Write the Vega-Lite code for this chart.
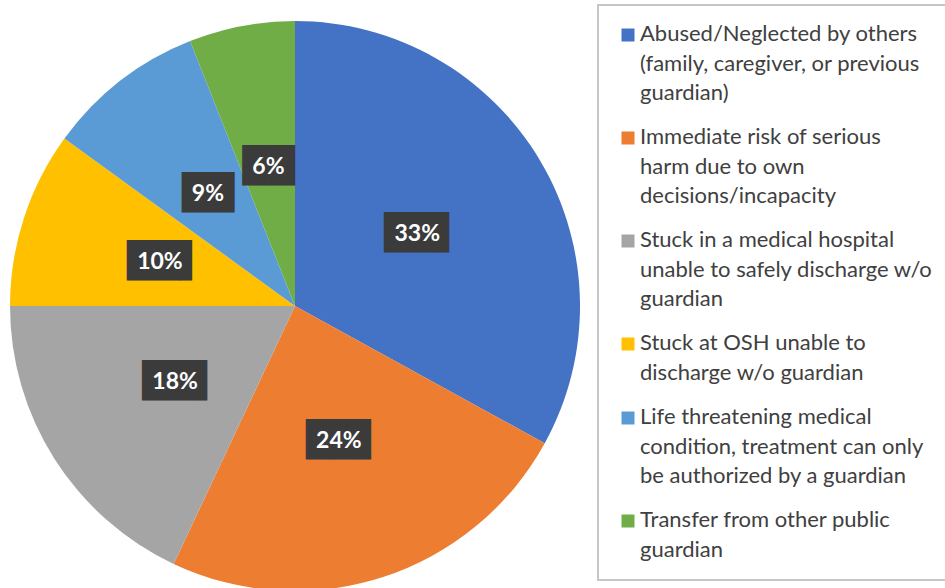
{
  "$schema": "https://vega.github.io/schema/vega-lite/v6.json",
  "width": 590,
  "height": 588,
  "padding": 0,
  "autosize": {"type": "pad"},
  "background": "white",
  "config": {"view": {"stroke": null}},
  "data": {
    "values": [
      {"i": 1, "category": "Abused/Neglected by others (family, caregiver, or previous guardian)", "share": 0.33},
      {"i": 2, "category": "Immediate risk of serious harm due to own decisions/incapacity", "share": 0.24},
      {"i": 3, "category": "Stuck in a medical hospital unable to safely discharge w/o guardian", "share": 0.18},
      {"i": 4, "category": "Stuck at OSH unable to discharge w/o guardian", "share": 0.10},
      {"i": 5, "category": "Life threatening medical condition, treatment can only be authorized by a guardian", "share": 0.09},
      {"i": 6, "category": "Transfer from other public guardian", "share": 0.06}
    ]
  },
  "encoding": {
    "theta": {"field": "share", "type": "quantitative", "stack": true},
    "order": {"field": "i", "type": "quantitative"}
  },
  "layer": [
    {
      "mark": {"type": "arc", "outerRadius": 285, "yOffset": 12, "clip": true},
      "encoding": {
        "color": {
          "field": "category",
          "type": "nominal",
          "sort": null,
          "scale": {
            "domain": [
              "Abused/Neglected by others (family, caregiver, or previous guardian)",
              "Immediate risk of serious harm due to own decisions/incapacity",
              "Stuck in a medical hospital unable to safely discharge w/o guardian",
              "Stuck at OSH unable to discharge w/o guardian",
              "Life threatening medical condition, treatment can only be authorized by a guardian",
              "Transfer from other public guardian"
            ],
            "range": ["#4472C4", "#ED7D31", "#A5A5A5", "#FFC000", "#5B9BD5", "#70AD47"]
          },
          "legend": {
            "title": null,
            "orient": "none",
            "legendX": 598,
            "legendY": 5,
            "strokeColor": "#c6c6c6",
            "padding": 19,
            "symbolType": "square",
            "symbolSize": 169,
            "symbolStrokeWidth": 0,
            "labelFont": "Lato",
            "labelFontSize": 22,
            "labelColor": "#404040",
            "labelLimit": 400,
            "labelOffset": 1,
            "labelBaseline": "top",
            "rowPadding": 22,
            "labelExpr": "indexof(datum.label,'Abused')==0 ? ['Abused/Neglected by others','(family, caregiver, or previous','guardian)'] : indexof(datum.label,'Immediate')==0 ? ['Immediate risk of serious','harm due to own','decisions/incapacity'] : indexof(datum.label,'Stuck in')==0 ? ['Stuck in a medical hospital','unable to safely discharge w/o','guardian'] : indexof(datum.label,'Stuck at')==0 ? ['Stuck at OSH unable to','discharge w/o guardian'] : indexof(datum.label,'Life')==0 ? ['Life threatening medical','condition, treatment can only','be authorized by a guardian'] : ['Transfer from other public','guardian']",
            "encode": {
              "legend": {"update": {"strokeWidth": {"value": 2}}},
              "labels": {"update": {"lineHeight": {"value": 29.5}, "dy": {"value": -11}}}
            }
          }
        }
      }
    },
    {
      "mark": {"type": "text", "radius": 142, "yOffset": 12, "dx": 6, "font": "DejaVu Sans", "fontSize": 34, "baseline": "middle", "align": "center"},
      "encoding": {
        "detail": {"field": "category"},
        "color": {"value": "#3b3b3b"},
        "text": {"condition": {"test": "datum.share >= 0.1", "value": "██▌"}, "value": ""}
      }
    },
    {
      "mark": {"type": "text", "radius": 142, "yOffset": 12, "font": "DejaVu Sans", "fontSize": 34, "baseline": "middle", "align": "center"},
      "encoding": {
        "detail": {"field": "category"},
        "color": {"value": "#3b3b3b"},
        "text": {"condition": {"test": "datum.share < 0.1", "value": "██"}, "value": ""}
      }
    },
    {
      "mark": {"type": "text", "radius": 142, "yOffset": 12, "font": "Lato", "fontWeight": "bold", "fontSize": 23, "baseline": "middle", "align": "center"},
      "encoding": {
        "detail": {"field": "category"},
        "color": {"value": "#ffffff"},
        "text": {"field": "share", "type": "quantitative", "format": ".0%"}
      }
    }
  ]
}
